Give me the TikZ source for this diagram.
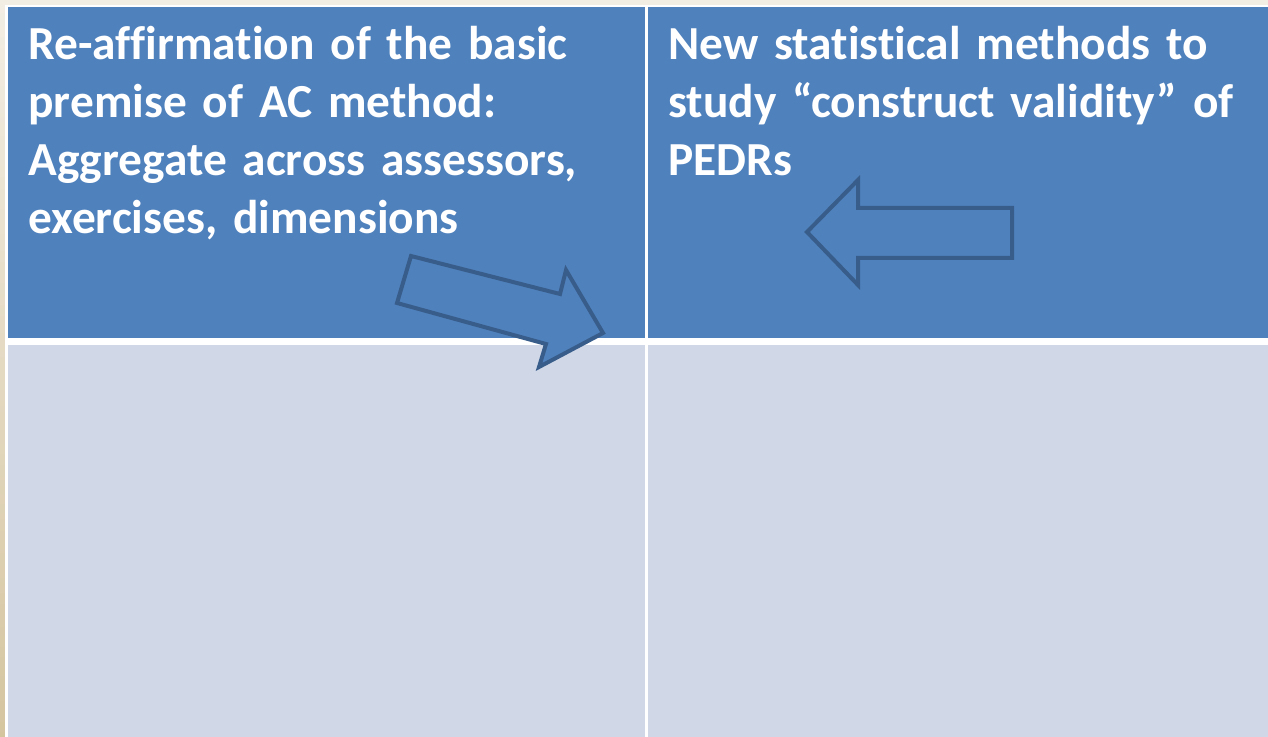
\documentclass[tikz,border=0pt]{standalone}
\usepackage{fontspec}
\setmainfont{Carlito}[Ligatures={NoCommon}]
\usepackage{tikz}
\definecolor{slideback}{RGB}{243,238,228}
\definecolor{slideedge}{RGB}{213,197,159}
\definecolor{headblue}{RGB}{79,129,189}
\definecolor{bodyblue}{RGB}{208,216,232}
\definecolor{arrowline}{RGB}{56,93,138}
\tikzset{
  cell/.style={inner sep=0pt,outer sep=0pt,anchor=north west},
  celltext/.style={inner sep=0pt,anchor=base west,text=white,align=left,
    text width=600*0.5pt,font=\bfseries\fontsize{23.7}{29}\selectfont},
  blockarrow/.style={draw=arrowline,fill=headblue,line width=2pt,line join=miter}
}

\begin{document}
\begin{tikzpicture}[x=0.5pt,y=-0.5pt]
\useasboundingbox (0,0) rectangle (1268,737);
% slide background
\shade[top color=slideback,bottom color=slideedge] (0,0) rectangle (1268,737);
\fill[white] (5,5) rectangle (1268,737);
% table cells
\node[cell,fill=headblue,minimum width=637*0.5pt,minimum height=331*0.5pt] (hleft) at (8,7) {};
\node[cell,fill=headblue,minimum width=620*0.5pt,minimum height=331*0.5pt] (hright) at (648,7) {};
\node[cell,fill=bodyblue,minimum width=637*0.5pt,minimum height=392*0.5pt] (bleft) at (8,345) {};
\node[cell,fill=bodyblue,minimum width=620*0.5pt,minimum height=392*0.5pt] (bright) at (648,345) {};
% texts
\node[celltext] (ltext) at (28,60) {Re-affirmation of the basic\\premise of AC method:\\Aggregate across assessors,\\exercises, dimensions};
\node[celltext] (rtext) at (668,60) {New statistical methods to\\study “construct validity” of\\PEDRs};
% arrows
\draw[blockarrow] (411,256) -- (560,294) -- (566,270) -- (603,333)
  -- (539,367) -- (546,344) -- (397,303) -- cycle;
\draw[blockarrow] (807,232) -- (858,180) -- (858,208) -- (1012,208)
  -- (1012,258) -- (858,258) -- (858,285) -- cycle;
\end{tikzpicture}
\end{document}
